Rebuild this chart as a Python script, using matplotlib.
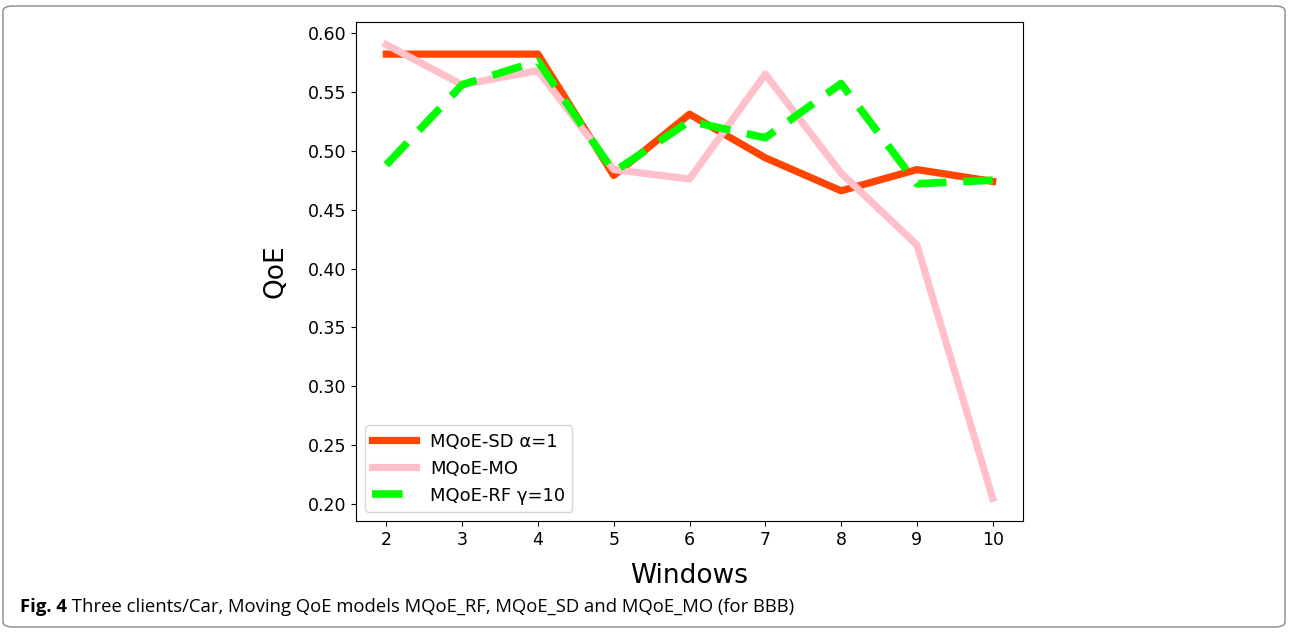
import matplotlib
matplotlib.use("Agg")
import matplotlib.pyplot as plt
from matplotlib.patches import FancyBboxPatch

windows = [2, 3, 4, 5, 6, 7, 8, 9, 10]
sd_alpha1 = [0.582, 0.582, 0.582, 0.479, 0.531, 0.494, 0.466, 0.484, 0.474]
mo = [0.590, 0.556, 0.568, 0.484, 0.476, 0.565, 0.481, 0.420, 0.205]
rf_gamma10 = [0.488, 0.556, 0.576, 0.482, 0.525, 0.511, 0.557, 0.472, 0.475]

labels = ["MQoE-SD α=1", "MQoE-MO", "MQoE-RF γ=10"]
caption_bold = "Fig. 4"
caption_text = " Three clients/Car, Moving QoE models MQoE_RF, MQoE_SD and MQoE_MO (for BBB)"

fig = plt.figure(figsize=(12.89, 6.32), dpi=100)
ax = fig.add_axes([356/1289, 1-521/632, (1023-356)/1289, (521-22)/632])

ax.plot(windows, sd_alpha1, color="#ff4500", lw=5.2, label=labels[0])
ax.plot(windows, mo, color="pink", lw=5.2, label=labels[1])
ax.plot(windows, rf_gamma10, color="#00ff00", lw=5.5, ls=(0, (4, 2.2)), label=labels[2])

ax.set_xticks(windows)
ax.tick_params(labelsize=12.5)
ax.set_xlabel("Windows", fontsize=19, labelpad=10)
ax.set_ylabel("QoE", fontsize=19, labelpad=14)
ax.legend(loc="lower left", fontsize=13, handlelength=2.4, handletextpad=0.8)

border = FancyBboxPatch((3/1289, 5/632), 1282/1289, 621/632,
                        boxstyle="round,pad=0,rounding_size=0.008",
                        transform=fig.transFigure, fill=False,
                        edgecolor="#888888", lw=1)
fig.add_artist(border)

t1 = fig.text(20/1289, 1-607/632, caption_bold, fontsize=13.3, fontweight="bold",
              family="Open Sans", va="center")
fig.canvas.draw()
bb = t1.get_window_extent()
fig.text(bb.x1/1289, 1-607/632, caption_text, fontsize=13.3, family="Open Sans", va="center")

fig.savefig("out.png", dpi=100)
